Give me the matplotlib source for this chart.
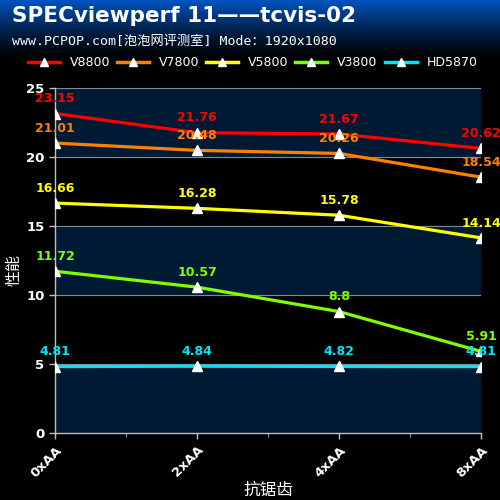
#!/usr/bin/env python3
# SPECviewperf 11 -- tcvis-02 line chart, dark PCPOP style

import numpy as np
import matplotlib
matplotlib.use('Agg')
import matplotlib.pyplot as plt
from matplotlib.lines import Line2D

#- data
categories = ['0xAA', '2xAA', '4xAA', '8xAA']
series_names = ['V8800', 'V7800', 'V5800', 'V3800', 'HD5870']
v8800 = [23.15, 21.76, 21.67, 20.62]
v7800 = [21.01, 20.48, 20.26, 18.54]
v5800 = [16.66, 16.28, 15.78, 14.14]
v3800 = [11.72, 10.57, 8.8, 5.91]
hd5870 = [4.81, 4.84, 4.82, 4.81]
colors = ['#ff0000', '#ff8000', '#ffff00', '#80ff00', '#00e5f0']
yticks = [0, 5, 10, 15, 20, 25]

plt.rcParams['font.family'] = ['DejaVu Sans', 'Noto Sans CJK SC']

fig = plt.figure(figsize=(5, 5), dpi=100, facecolor='black')

#- header gradient (blue -> black)
hax = fig.add_axes([0, 0.88, 1, 0.12])
grad = np.linspace(0, 1, 100).reshape(-1, 1)
hax.imshow(np.dstack([0 * grad, 0.33 * (1 - grad) ** 1.3, 0.75 * (1 - grad) ** 1.3]),
           aspect='auto', extent=[0, 1, 0, 1])
hax.axis('off')

fig.text(0.024, 0.968, 'SPECviewperf 11——tcvis-02', color='white',
         fontsize=15.5, fontweight='bold', va='center', ha='left')
fig.text(0.024, 0.918, 'www.PCPOP.com[泡泡网评测室] Mode：1920x1080', color='white',
         fontsize=9.5, va='center', ha='left',
         family=['DejaVu Sans Mono', 'Noto Sans CJK SC'])

#- legend drawn by hand in figure coords
leg_x = [0.056, 0.234, 0.412, 0.590, 0.770]
for i, name in enumerate(series_names):
    x0 = leg_x[i]
    fig.add_artist(Line2D([x0, x0 + 0.064], [0.876, 0.876], color=colors[i], lw=2.5,
                          transform=fig.transFigure))
    fig.add_artist(Line2D([x0 + 0.032], [0.877], marker='^', color='white', ms=6,
                          lw=0, transform=fig.transFigure))
    fig.text(x0 + 0.084, 0.876, name, color='white', fontsize=9, va='center', ha='left')

#- main plot
ax = fig.add_axes([0.11, 0.134, 0.852, 0.69])
ax.set_facecolor('black')
x = np.arange(len(categories))
for lo in [0, 10, 20]:
    ax.axhspan(lo, lo + 5, color='#011a33', zorder=0)
for yv in yticks[1:]:
    ax.axhline(yv, color='#7f8a95', lw=0.8, zorder=1)

all_series = [v8800, v7800, v5800, v3800, hd5870]
for vals, c in zip(all_series, colors):
    ax.plot(x, vals, color=c, lw=2.3, zorder=3)
    ax.plot(x, vals, '^', color='white', ms=6.5, zorder=4)
    for xi, v in zip(x, vals):
        ax.annotate(f'{v:g}', (xi, v), xytext=(0, 6), textcoords='offset points',
                    color=c, fontsize=9, fontweight='bold', ha='center', va='bottom',
                    zorder=5)

ax.set_xlim(0, 3)
ax.set_ylim(0, 25)
ax.set_yticks(yticks)
ax.set_xticks(x)
ax.set_xticks([0.5, 1.5, 2.5], minor=True)
ax.set_xticklabels(categories, rotation=45, ha='right', rotation_mode='anchor')
ax.tick_params(colors='#c0c0c0', labelcolor='white', labelsize=9.5, width=1, length=4)
ax.tick_params(axis='x', which='minor', colors='#c0c0c0', length=3)
for lab in ax.get_xticklabels() + ax.get_yticklabels():
    lab.set_fontweight('bold')
for s in ['top', 'right']:
    ax.spines[s].set_visible(False)
for s in ['left', 'bottom']:
    ax.spines[s].set_color('#c0c0c0')
    ax.spines[s].set_linewidth(1)

fig.text(0.028, 0.46, '性能', color='white', fontsize=11.5, rotation=90,
         va='center', ha='center')
fig.text(0.536, 0.02, '抗锯齿', color='white', fontsize=12, va='center', ha='center')

fig.savefig('out.png', dpi=100, facecolor='black')
